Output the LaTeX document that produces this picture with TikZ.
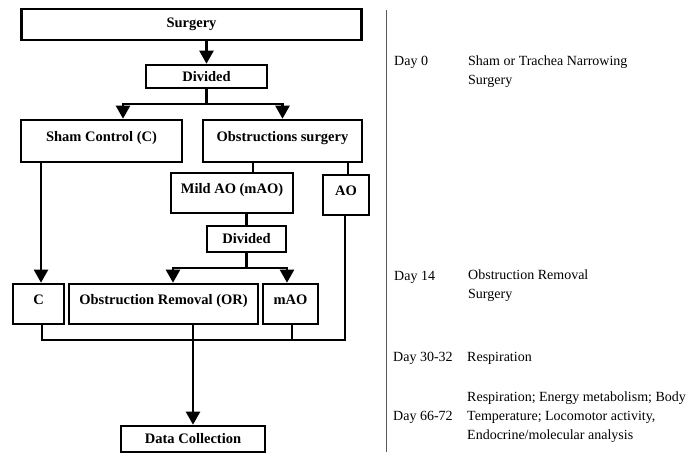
\documentclass[tikz,border=0pt]{standalone}
\usepackage{fontspec}
\setmainfont{Liberation Serif}
\usetikzlibrary{arrows.meta, positioning, calc}

\begin{document}
\begin{tikzpicture}[
    x=1pt, y=-1pt,
    >={Triangle[width=14pt,length=13pt]},
    % Node Styles
    box/.style={rectangle, draw, line width=2.6pt, inner sep=0pt, align=center, font=\fontsize{14.5}{16}\selectfont\bfseries},
    tallbox/.style={box, text height=#1, text depth=#1},
    flow/.style={line width=2.3pt},
    day/.style={anchor=west, inner sep=0pt, font=\fontsize{14}{19}\selectfont},
    desc/.style={anchor=west, inner sep=0pt, align=left, font=\fontsize{14}{19}\selectfont}
]

\useasboundingbox (0,0) rectangle (691,455);

% =========================================================
% FLOW CHART
% =========================================================
\node[box, minimum width=340pt, minimum height=31pt] (surgery) at (191.5,24.5) {Surgery};
\node[box, minimum width=121pt, minimum height=23pt] (divA) at (206.5,76.5) {Divided};

\node[tallbox=21pt, minimum width=161pt] (sham) at (101.5,141) {Sham Control (C)};
\node[tallbox=21pt, minimum width=159pt] (obst) at (282.5,141) {Obstructions surgery};

\node[tallbox=20pt, minimum width=122pt] (mild) at (232,193) {Mild AO (mAO)};
\node[tallbox=20pt, minimum width=46pt] (ao) at (346,195) {AO};
\node[box, minimum width=79pt, minimum height=26pt] (divB) at (246.5,239) {Divided};

\node[tallbox=20pt, minimum width=51pt] (c) at (38.5,304) {C};
\node[tallbox=20pt, minimum width=189pt] (or) at (163.5,304) {Obstruction Removal (OR)};
\node[tallbox=20pt, minimum width=55pt] (mao) at (290.5,304) {mAO};

\node[box, minimum width=144pt, minimum height=26pt] (data) at (193,439) {Data Collection};

% Connectors
\draw[flow, ->] (divA.north |- surgery.south) -- (divA.north);
\draw[flow, ->] (divA.south) -- ++(0,15) -| ([xshift=21.5pt]sham.north);
\draw[flow, ->] (divA.south) -- ++(0,15) -| (obst.north);

\draw[flow, ->] ([xshift=2.5pt]c.north |- sham.south) -- ([xshift=2.5pt]c.north);
\draw[flow] ([xshift=21pt]mild.north |- obst.south) -- ([xshift=21pt]mild.north);
\draw[flow] ([xshift=2pt]ao.north |- obst.south) -- ([xshift=2pt]ao.north);
\draw[flow] (divB.north |- mild.south) -- (divB.north);

\draw[flow, ->] (divB.south) -- ++(0,15) -| ([xshift=-73.5pt]divB.south |- or.north);
\draw[flow, ->] (divB.south) -- ++(0,15) -| ([xshift=-3.5pt]mao.north);

% Merge into data collection
\draw[flow] ([xshift=3.5pt]c.south) -- ++(0,15) -| ([xshift=-1pt]ao.south);
\draw[flow] ([xshift=1.5pt]mao.south) -- ++(0,15);
\draw[flow, ->] (data.north |- or.south) -- (data.north);

% =========================================================
% DIVIDER LINE
% =========================================================
\draw[line width=1.2pt, black!65] (386.5,10) -- (386.5,452);

% =========================================================
% TIMELINE
% =========================================================
\node[day] (day0) at (394,62) {Day 0};
\node[desc] (day0Text) at (468,72) {Sham or Trachea Narrowing\\Surgery};

\node[day] (day14) at (394,277) {Day 14};
\node[desc] (day14Text) at (468,286) {Obstruction Removal\\Surgery};

\node[day] (day30) at (393,358) {Day 30-32};
\node[desc] (day30Text) at (467,358) {Respiration};

\node[day] (day66) at (393,417) {Day 66-72};
\node[desc] (day66Text) at (467,417) {Respiration; Energy metabolism; Body\\Temperature; Locomotor activity,\\Endocrine/molecular analysis};

\end{tikzpicture}
\end{document}
